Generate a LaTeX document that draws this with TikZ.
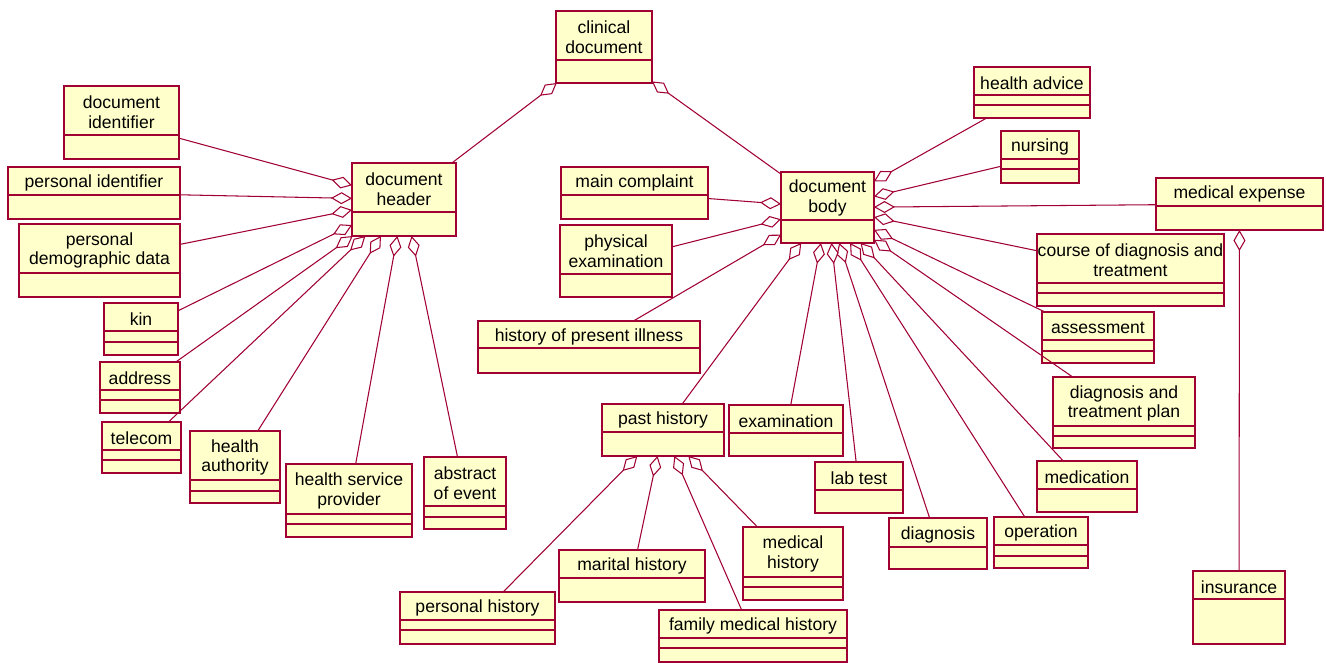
\documentclass[tikz,border=0pt]{standalone}
\usepackage{fontspec}
\setmainfont{Liberation Sans}
\usepackage{tikz}
\usetikzlibrary{arrows.meta,fit}

\definecolor{umlred}{RGB}{160,0,50}
\definecolor{umlfill}{RGB}{255,255,204}

% box: name, corners, first divider, second divider (may be empty), label
\newcommand{\umlclass}[8]{%
  \node[cls, fit={(#2,#3) (#4,#5)}] (#1) {};
  \draw[cls line] (#2,#6) -- (#4,#6);
  \if\relax\detokenize{#7}\relax\else\draw[cls line] (#2,#7) -- (#4,#7);\fi
  \node[cls text] at ({(#2+#4)/2},{(#3+#6)/2+2}) {#8};
}

\begin{document}
\begin{tikzpicture}[x=0.02cm,y=-0.02cm,
  cls/.style={rectangle, draw=umlred, fill=umlfill, line width=0.9pt, inner sep=0pt, outer sep=0pt},
  cls line/.style={draw=umlred, line width=0.7pt},
  cls text/.style={font=\fontsize{10}{11.3}\selectfont, align=center, inner sep=0pt},
  agg/.style={draw=umlred, line width=0.6pt, -{Diamond[open, length=0.42cm, width=0.24cm, line width=0.6pt]}}]
\useasboundingbox (0,0) rectangle (1326,663);

% top
\umlclass{clindoc}{556}{11}{652}{83}{60}{}{clinical\\document}
\umlclass{dochead}{352}{163}{456}{236}{212}{}{document\\header}
\umlclass{docbody}{781}{172}{874}{243}{220}{}{document\\body}

% header parts
\umlclass{docid}{64}{86}{179}{159}{135}{}{document\\identifier}
\umlclass{persid}{8}{167}{180}{219}{195}{}{personal identifier}
\umlclass{demog}{19}{224}{180}{297}{273}{}{personal\\demographic data}
\umlclass{kin}{104}{303}{178}{355}{331}{342}{kin}
\umlclass{address}{100}{362}{180}{413}{390}{400}{address}
\umlclass{telecom}{102}{422}{181}{473}{450}{460}{telecom}
\umlclass{authority}{190}{431}{280}{503}{480}{491}{health\\authority}
\umlclass{provider}{286}{464}{412}{537}{514}{524}{health service\\provider}
\umlclass{abstract}{424}{457}{506}{529}{506}{517}{abstract\\of event}

% body parts
\umlclass{complaint}{561}{167}{708}{219}{195}{}{main complaint}
\umlclass{physexam}{560}{225}{672}{297}{274}{}{physical\\examination}
\umlclass{presill}{478}{321}{700}{373}{348}{}{history of present illness}
\umlclass{pasthist}{602}{404}{724}{456}{432}{}{past history}
\umlclass{exam}{729}{405}{843}{456}{433}{}{examination}
\umlclass{labtest}{815}{462}{903}{513}{490}{}{lab test}
\umlclass{diagnosis}{889}{518}{987}{569}{547}{}{diagnosis}
\umlclass{operation}{994}{517}{1088}{568}{545}{556}{operation}
\umlclass{medication}{1037}{461}{1137}{512}{489}{}{medication}
\umlclass{plan}{1053}{377}{1195}{448}{426}{436}{diagnosis and\\treatment plan}
\umlclass{assess}{1042}{312}{1154}{363}{340}{351}{assessment}
\umlclass{course}{1037}{234}{1224}{306}{283}{293}{course of diagnosis and\\treatment}
\umlclass{expense}{1156}{178}{1323}{230}{206}{}{medical expense}
\umlclass{nursing}{1001}{131}{1079}{183}{159}{169}{nursing}
\umlclass{advice}{974}{67}{1090}{118}{95}{105}{health advice}
\umlclass{insurance}{1193}{571}{1285}{644}{599}{}{insurance}

% past history parts
\umlclass{pershist}{400}{592}{555}{644}{620}{630}{personal history}
\umlclass{marital}{559}{550}{705}{602}{578}{}{marital history}
\umlclass{medhist}{743}{527}{843}{600}{577}{587}{medical\\history}
\umlclass{family}{659}{610}{847}{662}{638}{648}{family medical history}

% aggregations
\draw[agg] (dochead) -- (clindoc);
\draw[agg] (docbody) -- (clindoc);
\foreach \p in {docid,persid,demog,kin,address,telecom,authority,provider,abstract}
  \draw[agg] (\p) -- (dochead);
\foreach \p in {complaint,physexam,presill,pasthist,exam,labtest,diagnosis,operation,
  medication,plan,assess,course,expense,nursing,advice}
  \draw[agg] (\p) -- (docbody);
\foreach \p in {pershist,marital,family,medhist}
  \draw[agg] (\p) -- (pasthist);
\draw[agg] (insurance) -- (expense);
\end{tikzpicture}
\end{document}
